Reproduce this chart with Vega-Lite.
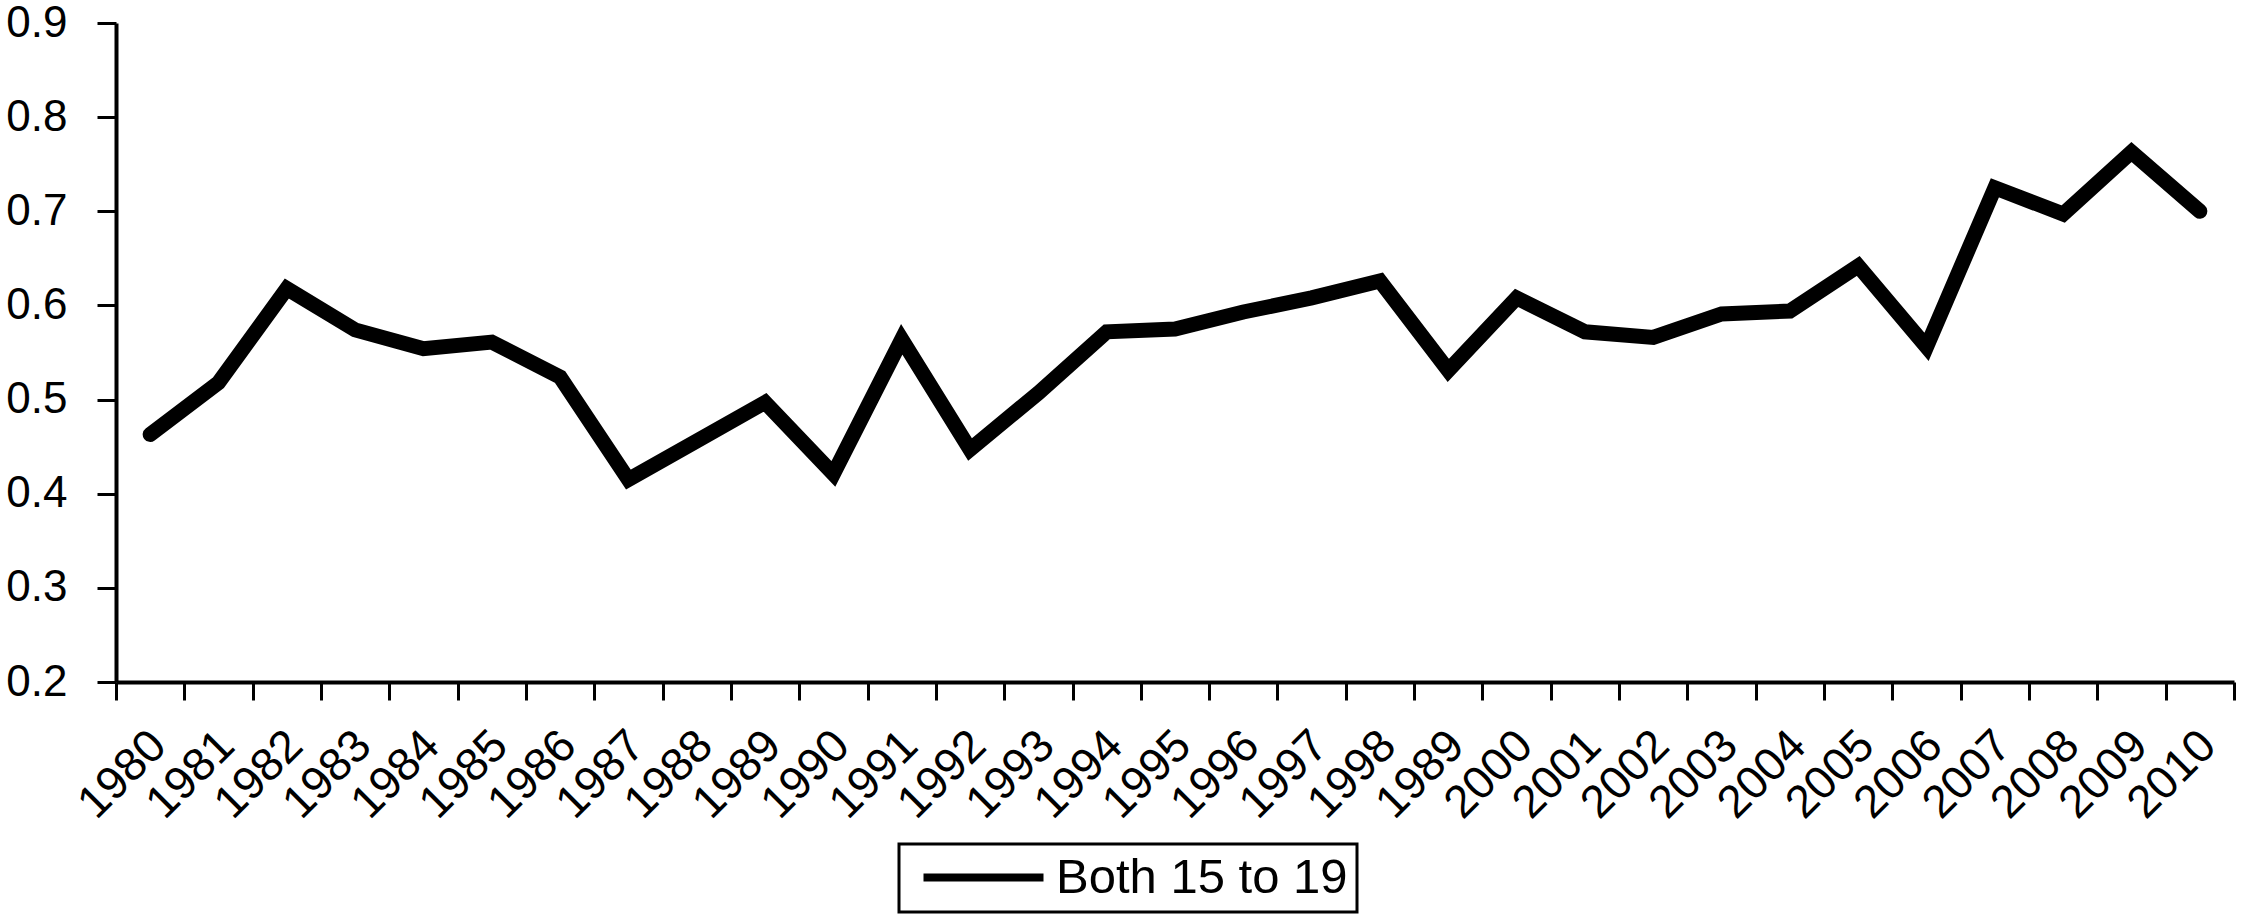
{
  "$schema": "https://vega.github.io/schema/vega-lite/v6.json",
  "autosize": {"type": "none"},
  "width": 2118,
  "height": 659,
  "padding": {"left": 116, "top": 23, "right": 10, "bottom": 236},
  "background": "white",
  "config": {
    "font": "Liberation Sans",
    "view": {"stroke": null}
  },
  "data": {
    "values": [
      {"year": "1980", "value": 0.463, "series": "Both 15 to 19"},
      {"year": "1981", "value": 0.518, "series": "Both 15 to 19"},
      {"year": "1982", "value": 0.618, "series": "Both 15 to 19"},
      {"year": "1983", "value": 0.574, "series": "Both 15 to 19"},
      {"year": "1984", "value": 0.554, "series": "Both 15 to 19"},
      {"year": "1985", "value": 0.561, "series": "Both 15 to 19"},
      {"year": "1986", "value": 0.524, "series": "Both 15 to 19"},
      {"year": "1987", "value": 0.415, "series": "Both 15 to 19"},
      {"year": "1988", "value": 0.456, "series": "Both 15 to 19"},
      {"year": "1989", "value": 0.497, "series": "Both 15 to 19"},
      {"year": "1990", "value": 0.421, "series": "Both 15 to 19"},
      {"year": "1991", "value": 0.564, "series": "Both 15 to 19"},
      {"year": "1992", "value": 0.447, "series": "Both 15 to 19"},
      {"year": "1993", "value": 0.507, "series": "Both 15 to 19"},
      {"year": "1994", "value": 0.572, "series": "Both 15 to 19"},
      {"year": "1995", "value": 0.575, "series": "Both 15 to 19"},
      {"year": "1996", "value": 0.593, "series": "Both 15 to 19"},
      {"year": "1997", "value": 0.608, "series": "Both 15 to 19"},
      {"year": "1998", "value": 0.626, "series": "Both 15 to 19"},
      {"year": "1999", "value": 0.531, "series": "Both 15 to 19"},
      {"year": "2000", "value": 0.608, "series": "Both 15 to 19"},
      {"year": "2001", "value": 0.572, "series": "Both 15 to 19"},
      {"year": "2002", "value": 0.566, "series": "Both 15 to 19"},
      {"year": "2003", "value": 0.591, "series": "Both 15 to 19"},
      {"year": "2004", "value": 0.594, "series": "Both 15 to 19"},
      {"year": "2005", "value": 0.642, "series": "Both 15 to 19"},
      {"year": "2006", "value": 0.556, "series": "Both 15 to 19"},
      {"year": "2007", "value": 0.725, "series": "Both 15 to 19"},
      {"year": "2008", "value": 0.697, "series": "Both 15 to 19"},
      {"year": "2009", "value": 0.763, "series": "Both 15 to 19"},
      {"year": "2010", "value": 0.700, "series": "Both 15 to 19"}
    ]
  },
  "mark": {"type": "line", "strokeWidth": 15, "strokeCap": "round", "strokeJoin": "miter"},
  "encoding": {
    "x": {
      "field": "year",
      "type": "ordinal",
      "sort": null,
      "scale": {"type": "band", "paddingInner": 0, "paddingOuter": 0},
      "axis": {
        "title": null,
        "tickBand": "extent",
        "tickSize": 18,
        "tickWidth": 3,
        "tickColor": "black",
        "domainColor": "black",
        "domainWidth": 4,
        "labelAngle": -45,
        "labelAlign": "right",
        "labelBaseline": "middle",
        "labelFontSize": 46,
        "labelColor": "black",
        "labelPadding": 38,
        "labelOffset": 8,
        "labelOverlap": false,
        "labelExpr": "datum.label == '1999' ? '1989' : datum.label"
      }
    },
    "y": {
      "field": "value",
      "type": "quantitative",
      "scale": {"domain": [0.2, 0.9], "nice": false, "zero": false},
      "axis": {
        "title": null,
        "values": [0.2, 0.3, 0.4, 0.5, 0.6, 0.7, 0.8, 0.9],
        "format": ".1f",
        "grid": false,
        "tickSize": 19,
        "tickWidth": 3,
        "tickColor": "black",
        "domainColor": "black",
        "domainWidth": 4,
        "labelFontSize": 44,
        "labelColor": "black",
        "labelPadding": 30
      }
    },
    "color": {
      "field": "series",
      "type": "nominal",
      "scale": {"range": ["black"]},
      "legend": {
        "title": null,
        "orient": "none",
        "legendX": 783,
        "legendY": 821,
        "strokeColor": "black",
        "padding": 9,
        "symbolType": "M-0.6,0H7.4",
        "symbolSize": 900,
        "symbolStrokeWidth": 8,
        "labelFontSize": 49,
        "labelColor": "black",
        "labelOffset": 99,
        "labelLimit": 0,
        "encode": {"legend": {"update": {"strokeWidth": {"value": 3}}}}
      }
    }
  }
}
